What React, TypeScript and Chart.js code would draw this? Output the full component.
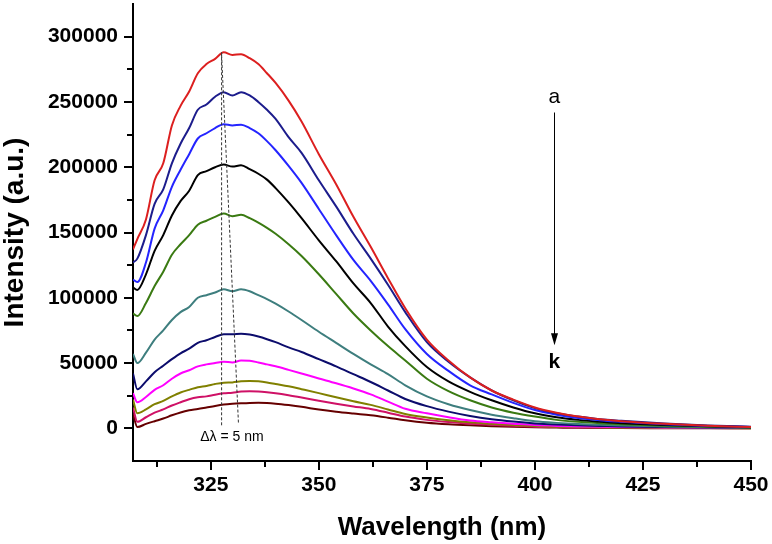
import React, { useEffect, useRef } from 'react';
import { Chart, registerables } from 'chart.js';

Chart.register(...registerables);

const wavelengths = [307, 308, 310, 312, 314, 316, 318, 320, 322, 324, 326, 328, 330, 332, 334, 336, 338, 340, 343, 346, 350, 354, 358, 362, 366, 370, 375, 380, 385, 390, 395, 400, 405, 410, 415, 420, 430, 440, 450];

const curveA = [137000, 145000, 160000, 190000, 203000, 232000, 247000, 258000, 272000, 279000, 283000, 288000, 286000, 286500, 283500, 279000, 272000, 264500, 251000, 235000, 210000, 187000, 162000, 139000, 115000, 92000, 68000, 52000, 39000, 29000, 22000, 16000, 12000, 9000, 7000, 5500, 3500, 2000, 1000];
const curveB = [127000, 130000, 148000, 172000, 183000, 203000, 218000, 230000, 244000, 248000, 254000, 257500, 255000, 257500, 255000, 250000, 244000, 237000, 223000, 211000, 190000, 170000, 149000, 130000, 110000, 89000, 66000, 51000, 39000, 29000, 21500, 15500, 11500, 9000, 7000, 5800, 3700, 2200, 1300];
const curveC = [114000, 112000, 127000, 153000, 167000, 185000, 198000, 210000, 222000, 226000, 230000, 233000, 232000, 232500, 230000, 226000, 220000, 213000, 201000, 188000, 168000, 148000, 129000, 113000, 95000, 76000, 57000, 44000, 33000, 26000, 19500, 14000, 10500, 8000, 6300, 5000, 3200, 1900, 1100];
const curveD = [108000, 106000, 118000, 136000, 148000, 163000, 174000, 182000, 194000, 197000, 200000, 202000, 200500, 201500, 198500, 195000, 190500, 184000, 173000, 161000, 144000, 128000, 111000, 96000, 78000, 63000, 47000, 36000, 28000, 21500, 16000, 11500, 8500, 6500, 5000, 4000, 2600, 1600, 900];
const curveE = [88000, 86000, 96000, 109000, 120000, 133000, 141000, 148000, 156000, 159000, 162000, 164500, 162500, 163500, 161000, 157500, 153500, 149000, 141000, 132000, 118000, 103000, 88000, 75000, 63000, 52000, 38000, 28500, 21500, 16000, 12000, 9000, 6500, 5000, 4000, 3200, 2000, 1200, 700];
const curveF = [57000, 50000, 58000, 68000, 75000, 83000, 89000, 93000, 100000, 102000, 104000, 106500, 105000, 106500, 105000, 102000, 99000, 95500, 89500, 83000, 74000, 65500, 57000, 49000, 41500, 33000, 24500, 18500, 14000, 10500, 7800, 5500, 4200, 3300, 2700, 2200, 1500, 900, 500];
const curveG = [42000, 30000, 36000, 43000, 48000, 53000, 57500, 61000, 65500, 67500, 70000, 72000, 72000, 72500, 71800, 70300, 68300, 66000, 62000, 58500, 53000, 47500, 41500, 35500, 29000, 22500, 17000, 12800, 9500, 7000, 5200, 3800, 2900, 2300, 1900, 1500, 1000, 600, 300];
const curveH = [27000, 20000, 24000, 29500, 33000, 38000, 42000, 44500, 47500, 49000, 50000, 51000, 50500, 52000, 51700, 50500, 49000, 47500, 44800, 42000, 38200, 34500, 30500, 26000, 20500, 15000, 11500, 8500, 6000, 4600, 3500, 2500, 1900, 1500, 1200, 1000, 700, 400, 200];
const curveI = [22000, 11500, 14500, 18500, 21000, 24500, 27500, 29500, 31500, 32500, 34000, 35000, 35200, 36000, 36300, 36000, 35200, 34000, 32200, 30000, 27000, 23800, 20800, 18000, 14500, 11000, 8300, 6200, 4600, 3500, 2600, 1800, 1300, 1000, 800, 600, 400, 200, 100];
const curveJ = [16000, 5000, 8500, 12000, 14500, 17500, 20000, 22300, 23800, 24500, 25800, 26800, 27300, 28200, 28400, 28200, 27600, 26800, 25300, 23600, 21200, 18900, 16800, 14800, 12000, 9000, 6500, 4800, 3600, 2700, 2000, 1300, 1000, 700, 500, 400, 300, 200, 100];
const curveK = [11000, 1000, 3400, 5500, 7500, 10000, 12200, 13800, 14800, 16000, 17200, 18200, 18800, 19200, 19500, 19600, 19400, 18900, 17800, 16500, 14400, 12700, 11300, 10000, 8200, 6200, 4300, 3100, 2300, 1700, 1200, 800, 600, 400, 300, 200, 150, 100, 50];

const curveLabels = ['a', 'b', 'c', 'd', 'e', 'f', 'g', 'h', 'i', 'j', 'k'];
const curveValues = [curveA, curveB, curveC, curveD, curveE, curveF, curveG, curveH, curveI, curveJ, curveK];
const curveColors = ['#dc1f1f', '#1c1c8c', '#2424ff', '#000000', '#3a7a12', '#3e7e7e', '#0c0c6c', '#ff00ff', '#808000', '#cf1166', '#660000'];

const xMajorTicks = [325, 350, 375, 400, 425, 450];
const xMinorTicks = [312.5, 337.5, 362.5, 387.5, 412.5, 437.5];
const yMajorTicks = [0, 50000, 100000, 150000, 200000, 250000, 300000];
const yMinorTicks = [25000, 75000, 125000, 175000, 225000, 275000];

// annotation anchors (data units)
const peakLeft = [327.5, 288000, 327.5, 1300];
const peakRight = [327.5, 286000, 331.4, 4000];
const shiftText = { x: 329.9, y: -7100, text: '\u0394\u03bb = 5 nm' };
const arrowLine = { x: 404.5, yTop: 241900, yTip: 63700 };
const arrowTopLabel = { x: 404.5, y: 253400, text: 'a' };
const arrowBottomLabel = { x: 404.5, y: 50700, text: 'k' };

const FONT = '"Liberation Sans", Arial, Helvetica, sans-serif';

const decorPlugin = {
  id: 'decor',
  afterDraw(chart: any) {
    const ctx = chart.ctx;
    const xs = chart.scales.x;
    const ys = chart.scales.y;
    const area = chart.chartArea;
    ctx.save();
    // ticks
    ctx.strokeStyle = '#000';
    ctx.lineWidth = 2;
    ctx.beginPath();
    xMajorTicks.forEach((v) => {
      const px = Math.round(xs.getPixelForValue(v));
      ctx.moveTo(px, area.bottom);
      ctx.lineTo(px, area.bottom + 9);
    });
    xMinorTicks.forEach((v) => {
      const px = Math.round(xs.getPixelForValue(v));
      ctx.moveTo(px, area.bottom);
      ctx.lineTo(px, area.bottom + 6);
    });
    yMajorTicks.forEach((v) => {
      const py = Math.round(ys.getPixelForValue(v));
      ctx.moveTo(area.left, py);
      ctx.lineTo(area.left - 9, py);
    });
    yMinorTicks.forEach((v) => {
      const py = Math.round(ys.getPixelForValue(v));
      ctx.moveTo(area.left, py);
      ctx.lineTo(area.left - 6, py);
    });
    ctx.stroke();

    // dashed peak lines
    ctx.strokeStyle = '#333';
    ctx.lineWidth = 1;
    ctx.setLineDash([3, 2]);
    [peakLeft, peakRight].forEach((l) => {
      ctx.beginPath();
      ctx.moveTo(xs.getPixelForValue(l[0]), ys.getPixelForValue(l[1]));
      ctx.lineTo(xs.getPixelForValue(l[2]), ys.getPixelForValue(l[3]));
      ctx.stroke();
    });
    ctx.setLineDash([]);

    // shift text
    ctx.fillStyle = '#000';
    ctx.textAlign = 'center';
    ctx.textBaseline = 'middle';
    ctx.font = `14px ${FONT}`;
    ctx.fillText(shiftText.text, xs.getPixelForValue(shiftText.x), ys.getPixelForValue(shiftText.y));

    // arrow
    const ax = Math.round(xs.getPixelForValue(arrowLine.x)) + 0.5;
    const ayTop = ys.getPixelForValue(arrowLine.yTop);
    const ayTip = ys.getPixelForValue(arrowLine.yTip);
    ctx.strokeStyle = '#000';
    ctx.lineWidth = 1;
    ctx.beginPath();
    ctx.moveTo(ax, ayTop);
    ctx.lineTo(ax, ayTip - 10);
    ctx.stroke();
    ctx.beginPath();
    ctx.moveTo(ax, ayTip);
    ctx.lineTo(ax - 3.5, ayTip - 12);
    ctx.lineTo(ax + 3.5, ayTip - 12);
    ctx.closePath();
    ctx.fill();

    ctx.font = `21px ${FONT}`;
    ctx.fillText(arrowTopLabel.text, xs.getPixelForValue(arrowTopLabel.x), ys.getPixelForValue(arrowTopLabel.y));
    ctx.font = `bold 21px ${FONT}`;
    ctx.fillText(arrowBottomLabel.text, xs.getPixelForValue(arrowBottomLabel.x), ys.getPixelForValue(arrowBottomLabel.y));
    ctx.restore();
  },
};

export default function App() {
  const canvasRef = useRef<HTMLCanvasElement | null>(null);

  useEffect(() => {
    if (!canvasRef.current) return;
    const datasets = curveValues.map((vals, i) => ({
      label: curveLabels[i],
      data: wavelengths.map((w, j) => ({ x: w, y: vals[j] })),
      borderColor: curveColors[i],
      backgroundColor: curveColors[i],
      borderWidth: 2,
      pointRadius: 0,
      fill: false,
      cubicInterpolationMode: 'monotone' as const,
    }));
    const chart = new Chart(canvasRef.current, {
      type: 'line',
      data: { datasets },
      plugins: [decorPlugin],
      options: {
        animation: false,
        responsive: false,
        events: [],
        layout: { padding: { top: 4, right: 21, left: 0, bottom: 0 } },
        plugins: { legend: { display: false }, tooltip: { enabled: false } },
        scales: {
          x: {
            type: 'linear',
            min: 307,
            max: 450,
            afterBuildTicks: (s: any) => {
              s.ticks = xMajorTicks.map((v) => ({ value: v }));
            },
            afterFit: (s: any) => {
              s.height = 83;
              s.paddingLeft = 0;
              s.paddingRight = 0;
            },
            grid: { display: true, drawOnChartArea: false, color: 'rgba(0,0,0,0)', tickLength: 9 },
            border: { display: true, color: '#000', width: 2 },
            ticks: {
              color: '#000',
              padding: 3,
              maxRotation: 0,
              autoSkip: false,
              font: { family: FONT, size: 21, weight: 'bold', lineHeight: 1.2 },
              callback: (v: any) => String(v),
            },
            title: {
              display: true,
              text: 'Wavelength (nm)',
              color: '#000',
              padding: { top: 0, bottom: 1 },
              font: { family: FONT, size: 26, weight: 'bold', lineHeight: 1.2 },
            },
          },
          y: {
            type: 'linear',
            min: -25000,
            max: 325000,
            afterBuildTicks: (s: any) => {
              s.ticks = yMajorTicks.map((v) => ({ value: v }));
            },
            afterFit: (s: any) => {
              s.width = 133;
              s.paddingTop = 0;
              s.paddingBottom = 0;
            },
            grid: { display: true, drawOnChartArea: false, color: 'rgba(0,0,0,0)', tickLength: 9 },
            border: { display: true, color: '#000', width: 2 },
            ticks: {
              color: '#000',
              padding: 6,
              autoSkip: false,
              font: { family: FONT, size: 21, weight: 'bold', lineHeight: 1.2 },
              callback: (v: any) => String(v),
            },
            title: {
              display: true,
              text: 'Intensity (a.u.)',
              color: '#000',
              padding: { top: 0, bottom: 0 },
              font: { family: FONT, size: 28, weight: 'bold', lineHeight: 1.1 },
            },
          },
        },
      },
    });
    return () => chart.destroy();
  }, []);

  return (
    <div style={{ position: 'fixed', left: 0, top: 0, width: 772, height: 544, background: '#fff' }}>
      <canvas ref={canvasRef} width={772} height={544} style={{ display: 'block', width: 772, height: 544 }} />
    </div>
  );
}
